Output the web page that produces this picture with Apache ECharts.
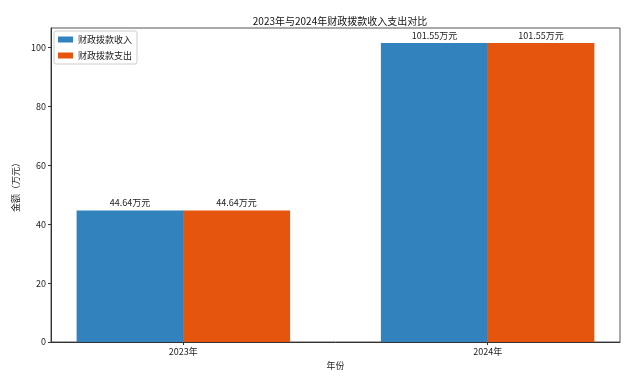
<!DOCTYPE html>
<html>
<head>
<meta charset="utf-8">
<script src="https://cdn.jsdelivr.net/npm/echarts@6/dist/echarts.min.js"></script>
<style>html,body{margin:0;padding:0;background:#fff}#c{width:640px;height:390px}</style>
</head>
<body>
<div id="c"></div>
<script>
const categories = ['2023年', '2024年'];
const incomeValues = [44.64, 101.55];
const expenseValues = [44.64, 101.55];
const seriesNames = ['财政拨款收入', '财政拨款支出'];
const yTicks = [0, 20, 40, 60, 80, 100];

const barW = 0.35;
const font = '"Noto Sans CJK SC", "DejaVu Sans", sans-serif';
const chart = echarts.init(document.getElementById('c'));
const maxVal = Math.max(...incomeValues, ...expenseValues) * 1.05;
const lbl = {show: true, position: 'top', distance: 3, fontSize: 9, color: '#222', fontFamily: font,
  formatter: p => p.value[1].toFixed(2) + '万元'};
chart.setOption({
  animation: false,
  title: {text: '2023年与2024年财政拨款收入支出对比', left: 335, textAlign: 'center', top: 11,
    textStyle: {fontSize: 10, fontWeight: 'normal', color: '#111', fontFamily: font}},
  grid: {left: 51, right: 20, top: 28, bottom: 48, show: true, borderColor: '#555', borderWidth: 1},
  legend: {left: 54, top: 31, orient: 'vertical', icon: 'rect', itemWidth: 15, itemHeight: 6, itemGap: 7,
    backgroundColor: '#fff', borderColor: '#ccc', borderWidth: 1, borderRadius: 2, padding: [4, 5, 4, 4],
    textStyle: {fontSize: 9, color: '#222', fontFamily: font}, data: seriesNames},
  xAxis: {type: 'value', min: -barW - 0.085, max: 1 + barW + 0.085,
    name: '年份', nameLocation: 'middle', nameGap: 19,
    nameTextStyle: {fontSize: 9, color: '#222', fontFamily: font},
    splitLine: {show: false},
    axisLine: {show: true, onZero: false, lineStyle: {color: '#333'}},
    axisTick: {show: true, length: 3, customValues: categories.map((c, i) => i), lineStyle: {color: '#333'}},
    axisLabel: {fontSize: 9, color: '#222', fontFamily: font, margin: 5,
      customValues: categories.map((c, i) => i), formatter: v => categories[Math.round(v)]}},
  yAxis: {type: 'value', min: 0, max: maxVal, interval: 20,
    name: '金额（万元）', nameLocation: 'middle', nameGap: 27, nameRotate: 90,
    nameTextStyle: {fontSize: 9, color: '#222', fontFamily: font},
    splitLine: {show: false},
    axisLine: {show: true, onZero: false, lineStyle: {color: '#333'}},
    axisTick: {show: true, length: 3, customValues: yTicks, lineStyle: {color: '#333'}},
    axisLabel: {fontSize: 9, color: '#222', fontFamily: font, margin: 5, customValues: yTicks}},
  series: [
    {name: seriesNames[0], type: 'bar', barWidth: 107, barGap: '-100%', itemStyle: {color: '#3182bd'},
      label: lbl, data: incomeValues.map((v, i) => [i - barW / 2, v])},
    {name: seriesNames[1], type: 'bar', barWidth: 107, barGap: '-100%', itemStyle: {color: '#e6550d'},
      label: lbl, data: expenseValues.map((v, i) => [i + barW / 2, v])}
  ]
});
</script>
</body>
</html>
